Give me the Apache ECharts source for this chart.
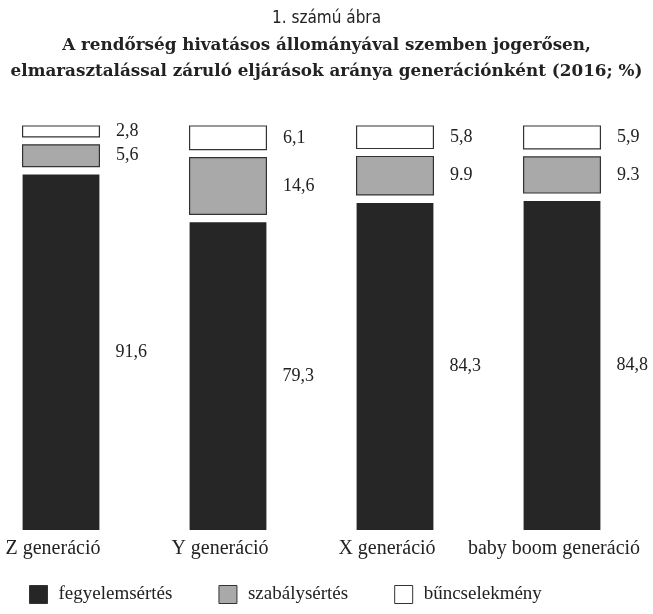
<!DOCTYPE html>
<html><head><meta charset="utf-8">
<script src="https://cdn.jsdelivr.net/npm/echarts@6/dist/echarts.min.js"></script>
<style>html,body{margin:0;padding:0;background:#fff}#c{width:653px;height:614px}</style>
</head><body><div id="c"></div>
<script>
const categories = ['Z generáció', 'Y generáció', 'X generáció', 'baby boom generáció'];
const seriesNames = ['fegyelemsértés', 'szabálysértés', 'bűncselekmény'];
const fegyelem = [91.6, 79.3, 84.3, 84.8];
const szabaly = [5.6, 14.6, 9.9, 9.3];
const bunc = [2.8, 6.1, 5.8, 5.9];
const fegyelemLabels = ['91,6', '79,3', '84,3', '84,8'];
const szabalyLabels = ['5,6', '14,6', '9.9', '9.3'];
const buncLabels = ['2,8', '6,1', '5,8', '5,9'];

const SERIF = '"Liberation Serif","DejaVu Serif",serif';
const GAP = 8;
const BAR_RATIO = 0.46;
const colors = ['#262626', '#a9a9a9', '#ffffff'];

const valueSets = [fegyelem, szabaly, bunc];
const labelSets = [fegyelemLabels, szabalyLabels, buncLabels];

function buildData(level) {
  return categories.map((c, i) => {
    let start = 0;
    for (let k = 0; k < level; k++) start += valueSets[k][i];
    return [i, start, start + valueSets[level][i]];
  });
}

function makeRender(level) {
  return function (params, api) {
    const idx = api.value(0);
    const p0 = api.coord([idx, api.value(1)]);
    const p1 = api.coord([idx, api.value(2)]);
    const pa = api.coord([0, 0]);
    const pb = api.coord([1, 0]);
    const w = (pb[0] - pa[0]) * BAR_RATIO;
    const off = level * GAP;
    const style = api.style();
    if (level > 0) { style.stroke = '#333'; style.lineWidth = 1.2; }
    return {
      type: 'rect',
      shape: { x: p0[0] - w / 2, y: p1[1] - off, width: w, height: p0[1] - p1[1] },
      style: style,
      textContent: {
        style: { text: labelSets[level][params.dataIndex], font: '18px ' + SERIF, fill: '#222' }
      },
      textConfig: { position: 'right', distance: 16 }
    };
  };
}

const series = seriesNames.map((name, level) => ({
  type: 'custom',
  name: name,
  renderItem: makeRender(level),
  itemStyle: { color: colors[level], borderColor: '#333', borderWidth: level > 0 ? 1 : 0 },
  encode: { x: 0, y: [1, 2] },
  data: buildData(level)
}));

const chart = echarts.init(document.getElementById('c'));
chart.setOption({
  animation: false,
  backgroundColor: '#fff',
  title: [
    { text: '1. számú ábra', left: 'center', top: 5,
      textStyle: { fontFamily: '"Liberation Sans Narrow","DejaVu Sans Condensed",sans-serif', fontWeight: 'normal', fontSize: 17, color: '#222' } },
    { text: 'A rendőrség hivatásos állományával szemben jogerősen,\nelmarasztalással záruló eljárások aránya generációnként (2016; %)',
      left: 'center', top: 28,
      textStyle: { fontFamily: '"DejaVu Serif",serif', fontWeight: 'bold', fontSize: 16.8, lineHeight: 26, color: '#222' } }
  ],
  grid: { left: 61, right: 91, top: 142, bottom: 84 },
  xAxis: {
    type: 'category', data: categories, boundaryGap: false,
    axisLine: { show: false }, axisTick: { show: false },
    axisLabel: { interval: 0, margin: 9, fontFamily: SERIF, fontSize: 20, color: '#222', padding: [0, 16, 0, 0] }
  },
  yAxis: { type: 'value', min: 0, max: 100, show: false },
  legend: {
    left: 24, top: 580, itemWidth: 18, itemHeight: 18, itemGap: 46,
    icon: 'rect',
    textStyle: { fontFamily: SERIF, fontSize: 19, color: '#222', padding: [0, 0, 0, 6] },
    data: seriesNames.map((n, i) => ({ name: n, itemStyle: { color: colors[i], borderColor: '#333', borderWidth: 1 } }))
  },
  series: series
});
</script></body></html>
